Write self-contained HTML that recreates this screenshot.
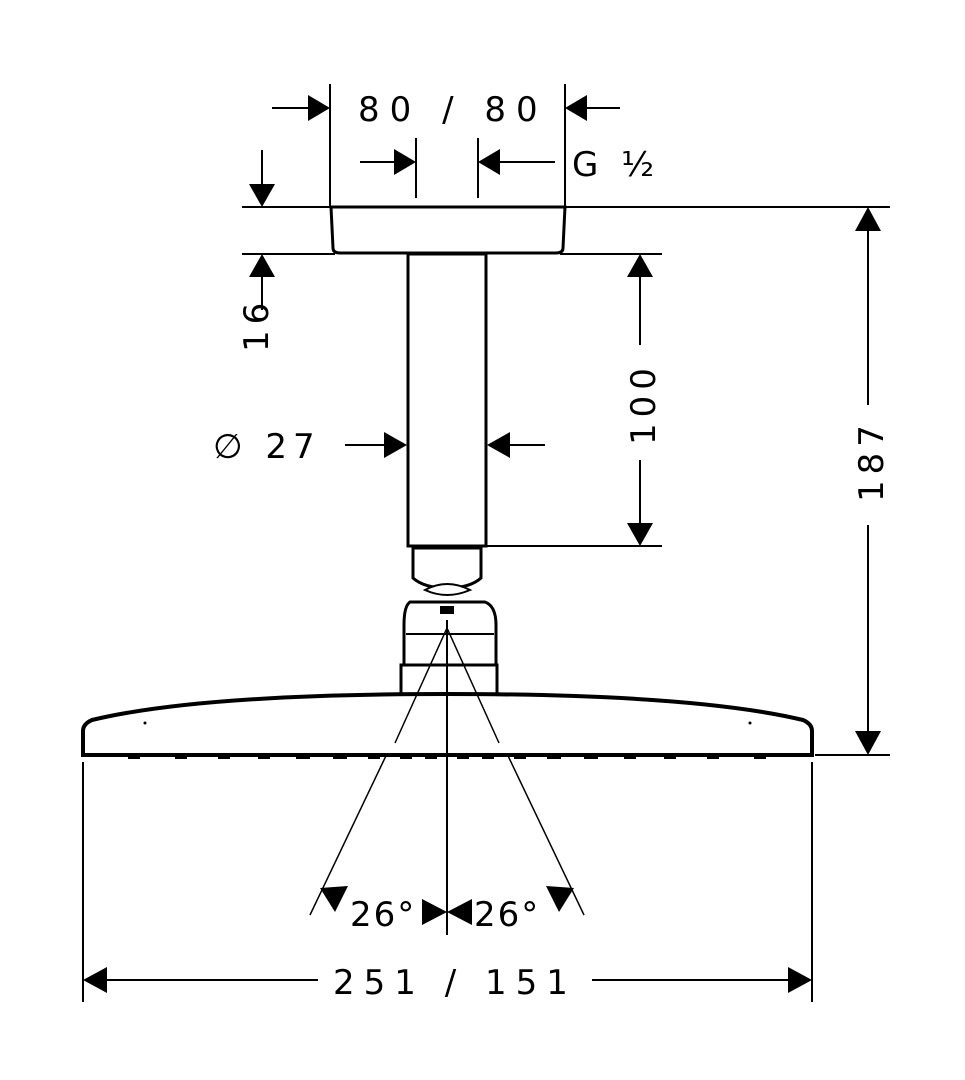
<!DOCTYPE html>
<html><head><meta charset="utf-8"><style>
html,body{margin:0;padding:0;background:#fff;}
svg{display:block}
text{font-family:"DejaVu Sans","Liberation Sans",sans-serif;fill:#000;font-size:34px;letter-spacing:6px}
</style></head><body>
<svg width="965" height="1080" viewBox="0 0 965 1080" xmlns="http://www.w3.org/2000/svg">
<g stroke="#000" fill="none" stroke-width="2">
<line x1="330" y1="84" x2="330" y2="207"/>
<line x1="565" y1="84" x2="565" y2="207"/>
<line x1="416" y1="138" x2="416" y2="198"/>
<line x1="478" y1="138" x2="478" y2="198"/>
<line x1="242" y1="207" x2="330" y2="207"/>
<line x1="565" y1="207" x2="890" y2="207"/>
<line x1="242" y1="254" x2="335" y2="254"/>
<line x1="560" y1="254" x2="662" y2="254"/>
<line x1="487" y1="546" x2="662" y2="546"/>
<line x1="815" y1="755" x2="890" y2="755"/>
<line x1="83" y1="762" x2="83" y2="1002"/>
<line x1="812" y1="762" x2="812" y2="1002"/>
<line x1="272" y1="108" x2="310" y2="108"/>
<line x1="585" y1="108" x2="620" y2="108"/>
<line x1="360" y1="162" x2="395" y2="162"/>
<line x1="500" y1="162" x2="555" y2="162"/>
<line x1="262" y1="150" x2="262" y2="185"/>
<line x1="262" y1="276" x2="262" y2="310"/>
<line x1="640" y1="276" x2="640" y2="345"/>
<line x1="640" y1="460" x2="640" y2="524"/>
<line x1="868" y1="230" x2="868" y2="405"/>
<line x1="868" y1="525" x2="868" y2="733"/>
<line x1="345" y1="445" x2="385" y2="445"/>
<line x1="509" y1="445" x2="545" y2="445"/>
<line x1="105" y1="980" x2="318" y2="980"/>
<line x1="592" y1="980" x2="790" y2="980"/>
<line x1="447" y1="620" x2="447" y2="935"/>
<line x1="447" y1="628" x2="310" y2="915" stroke-width="1.5"/>
<line x1="447" y1="628" x2="584" y2="915" stroke-width="1.5"/>
</g>
<g fill="#000">
<polygon points="330,108 308,95 308,121"/>
<polygon points="565,108 587,95 587,121"/>
<polygon points="416,162 394,149 394,175"/>
<polygon points="478,162 500,149 500,175"/>
<polygon points="262,207 249,184 275,184"/>
<polygon points="262,254 249,277 275,277"/>
<polygon points="640,254 627,277 653,277"/>
<polygon points="640,546 627,523 653,523"/>
<polygon points="868,207 855,231 881,231"/>
<polygon points="868,755 855,731 881,731"/>
<polygon points="407,445 384,432 384,458"/>
<polygon points="487,445 510,432 510,458"/>
<polygon points="83,980 107,967 107,993"/>
<polygon points="812,980 788,967 788,993"/>
<polygon points="447,912 422,899 422,925"/>
<polygon points="447,912 472,899 472,925"/>
<polygon points="320,888 348,886 335,912"/>
<polygon points="574,888 546,886 559,912"/>
</g>
<path d="M331,207 L565,207 L563,248 Q563,253 556,253 L340,253 Q333,253 333,248 Z" fill="#fff" stroke="#000" stroke-width="3"/>
<rect x="408" y="254" width="78" height="292" fill="#fff" stroke="#000" stroke-width="3"/>
<g stroke="#000" stroke-width="3" fill="#fff">
<path d="M413,548 L481,548 L481,578 Q470,588 447,588 Q424,588 413,578 Z"/>
<path d="M425,590 Q447,578 470,590 Q447,600 425,590 Z" stroke-width="2"/>
<path d="M410,602 L485,602 Q496,606 496,625 L496,665 L404,665 L404,625 Q404,606 410,602 Z"/>
<line x1="406" y1="634" x2="494" y2="634" stroke-width="2"/>
<rect x="401" y="665" width="96" height="30"/>
<rect x="440" y="606" width="14" height="8" fill="#000" stroke="none"/>
</g>
<path d="M83,755 L83,731 Q83,724 92,720 Q200,694 447,694 Q694,694 803,720 Q812,724 812,731 L812,755 Z" fill="#fff" stroke="#000" stroke-width="4"/>
<line x1="447" y1="620" x2="447" y2="760" stroke="#000" stroke-width="2"/>
<line x1="447" y1="628" x2="395" y2="743" stroke="#000" stroke-width="1.5"/>
<line x1="447" y1="628" x2="499" y2="743" stroke="#000" stroke-width="1.5"/>
<g fill="#000">
<rect x="128" y="756" width="12" height="3"/><rect x="175" y="756" width="12" height="3"/><rect x="218" y="756" width="12" height="3"/><rect x="258" y="756" width="12" height="3"/><rect x="296" y="756" width="14" height="3"/><rect x="333" y="756" width="14" height="3"/><rect x="368" y="756" width="12" height="3"/><rect x="400" y="756" width="12" height="3"/><rect x="425" y="756" width="12" height="3"/>
<rect x="457" y="756" width="12" height="3"/><rect x="482" y="756" width="12" height="3"/><rect x="514" y="756" width="12" height="3"/><rect x="547" y="756" width="14" height="3"/><rect x="584" y="756" width="14" height="3"/><rect x="624" y="756" width="12" height="3"/><rect x="664" y="756" width="12" height="3"/><rect x="707" y="756" width="12" height="3"/><rect x="754" y="756" width="12" height="3"/>
<circle cx="145" cy="723" r="1.5"/><circle cx="750" cy="723" r="1.5"/>
</g>
<text x="358" y="121" style="letter-spacing:10px">80 / 80</text>
<text x="572" y="176">G ½</text>
<text x="0" y="0" transform="translate(268,352) rotate(-90)">16</text>
<text x="0" y="0" transform="translate(655,445) rotate(-90)">100</text>
<text x="0" y="0" transform="translate(883,502) rotate(-90)">187</text>
<text x="213" y="458">∅ 27</text>
<text x="350" y="926" style="letter-spacing:2px">26°</text>
<text x="474" y="926" style="letter-spacing:2px">26°</text>
<text x="333" y="994" style="letter-spacing:9px">251 / 151</text>
</svg>
</body></html>
